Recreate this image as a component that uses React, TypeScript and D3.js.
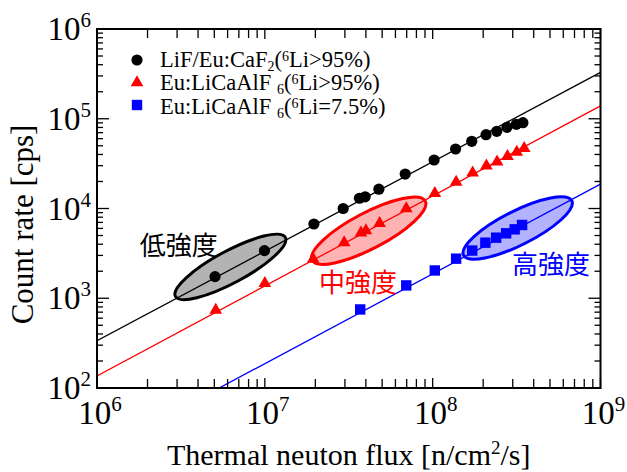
import React from "react";
import * as d3 from "d3";

// LiF/Eu:CaF2 (6Li>95%)
const lifFlux = [5.05e6, 9.95e6, 1.96e7, 2.93e7, 3.66e7, 3.96e7, 4.78e7, 6.86e7, 1.02e8, 1.37e8, 1.71e8, 2.08e8, 2.41e8, 2.77e8, 3.15e8, 3.45e8];
const lifRate = [1.74e3, 3.39e3, 6.72e3, 1.0e4, 1.3e4, 1.35e4, 1.64e4, 2.42e4, 3.47e4, 4.6e4, 5.61e4, 6.64e4, 7.25e4, 8.03e4, 8.67e4, 9.04e4];
// Eu:LiCaAlF6 (6Li>95%)
const lcafEnrFlux = [5.1e6, 1.0e7, 1.94e7, 2.97e7, 3.74e7, 4.0e7, 4.83e7, 6.96e7, 1.03e8, 1.38e8, 1.73e8, 2.09e8, 2.42e8, 2.79e8, 3.17e8, 3.51e8];
const lcafEnrRate = [7.4e2, 1.47e3, 2.74e3, 4.16e3, 5.37e3, 5.66e3, 6.84e3, 1.0e4, 1.48e4, 1.97e4, 2.49e4, 2.98e4, 3.32e4, 3.82e4, 4.24e4, 4.69e4];
// Eu:LiCaAlF6 (6Li=7.5%)
const lcafNatFlux = [3.7e7, 6.96e7, 1.03e8, 1.38e8, 1.72e8, 2.06e8, 2.39e8, 2.74e8, 3.08e8, 3.41e8];
const lcafNatRate = [7.5e2, 1.39e3, 2.04e3, 2.76e3, 3.4e3, 4.16e3, 4.73e3, 5.29e3, 5.86e3, 6.55e3];

// fitted lines, [flux, rate] at both ends of the x range
const fitLif: [number, number][] = [[1e6, 336], [1e9, 3.29e5]];
const fitLcafEnr: [number, number][] = [[1e6, 136], [1e9, 1.39e5]];
const fitLcafNat: [number, number][] = [[1e6, 18.7], [1e9, 1.87e4]];

// intensity regions: two ends of each ellipse [flux, rate]
const regionNames = ["低強度", "中強度", "高強度"];
const regionEnds: [number, number][][] = [
  [[2.88e6, 1.03e3], [1.35e7, 4.85e3]],
  [[1.88e7, 2.6e3], [9.2e7, 1.23e4]],
  [[1.5e8, 2.96e3], [6.87e8, 1.24e4]],
];
const regionLabelAt: [number, number][] = [[1.8e6, 3.03e3], [2.1e7, 1.17e3], [2.97e8, 1.86e3]];

const xDecades = [6, 7, 8, 9];
const yDecades = [2, 3, 4, 5, 6];

const W = 627;
const H = 472;
const margin = { top: 29, right: 26.5, bottom: 84, left: 97 };

const serif = "'Liberation Serif', 'Times New Roman', serif";
const jp = "'Noto Sans CJK JP', sans-serif";

export default function App() {
  const x = d3.scaleLog().domain([1e6, 1e9]).range([margin.left, W - margin.right]);
  const y = d3.scaleLog().domain([1e2, 1e6]).range([H - margin.bottom, margin.top]);
  const [x0, x1] = x.range();
  const [y0, y1] = y.range();

  const line = d3
    .line<[number, number]>()
    .x((d) => x(d[0]))
    .y((d) => y(d[1]));

  const isMajor = (v: number) => Math.abs(Math.log10(v) - Math.round(Math.log10(v))) < 1e-6;
  const xTicks = x.ticks();
  const yTicks = y.ticks();

  const tri = d3.symbol(d3.symbolTriangle, 70)() as string;

  const series = [
    { name: "lif", flux: lifFlux, rate: lifRate, color: "#000", fit: fitLif },
    { name: "enr", flux: lcafEnrFlux, rate: lcafEnrRate, color: "#ff0000", fit: fitLcafEnr },
    { name: "nat", flux: lcafNatFlux, rate: lcafNatRate, color: "#0000ff", fit: fitLcafNat },
  ];

  const regionStyle = [
    { fill: "#b3b3b3", stroke: "#000", text: "#000", b: 16 },
    { fill: "rgba(255,0,0,0.3)", stroke: "#ff0000", text: "#ff0000", b: 18 },
    { fill: "rgba(0,0,255,0.3)", stroke: "#0000ff", text: "#0000ff", b: 17 },
  ];

  const marker = (i: number, cx: number, cy: number, key: string | number) => {
    if (i === 0) return <circle key={key} cx={cx} cy={cy} r={5.6} fill="#000" />;
    if (i === 1) return <path key={key} d={tri} transform={`translate(${cx},${cy})`} fill="#ff0000" />;
    return <rect key={key} x={cx - 5.2} y={cy - 5.2} width={10.4} height={10.4} fill="#0000ff" />;
  };

  const legendRows = [
    { base: "LiF/Eu:CaF", sub: "2", tail: "Li>95%)" },
    { base: "Eu:LiCaAlF ", sub: "6", tail: "Li>95%)" },
    { base: "Eu:LiCaAlF ", sub: "6", tail: "Li=7.5%)" },
  ];

  return (
    <svg width={W} height={H} style={{ position: "absolute", left: 0, top: 0, background: "#fff" }}>
      <defs>
        <clipPath id="plot">
          <rect x={x0} y={y1} width={x1 - x0} height={y0 - y1} />
        </clipPath>
      </defs>

      {/* intensity regions */}
      {regionEnds.map((ends, i) => {
        const ax = x(ends[0][0]), ay = y(ends[0][1]);
        const bx = x(ends[1][0]), by = y(ends[1][1]);
        const a = Math.hypot(bx - ax, by - ay) / 2;
        const ang = (Math.atan2(by - ay, bx - ax) * 180) / Math.PI;
        const s = regionStyle[i];
        return (
          <ellipse
            key={i}
            transform={`translate(${(ax + bx) / 2},${(ay + by) / 2}) rotate(${ang})`}
            rx={a - 1.5}
            ry={s.b}
            fill={s.fill}
            stroke={s.stroke}
            strokeWidth={3}
          />
        );
      })}

      {/* fit lines */}
      <g clipPath="url(#plot)">
        {series.map((s) => (
          <path key={s.name} d={line(s.fit) as string} fill="none" stroke={s.color} strokeWidth={1.3} />
        ))}
      </g>

      {/* data points */}
      {series.map((s, i) => (
        <g key={s.name}>{s.flux.map((f, j) => marker(i, x(f), y(s.rate[j]), j))}</g>
      ))}

      {/* region labels */}
      {regionNames.map((t, i) => (
        <text
          key={t}
          x={x(regionLabelAt[i][0])}
          y={y(regionLabelAt[i][1])}
          fontFamily={jp}
          fontSize={26}
          fill={regionStyle[i].text}
        >
          {t}
        </text>
      ))}

      {/* ticks, inward on all four sides */}
      <g stroke="#000" strokeWidth={1.3}>
        {xTicks.map((t, i) => {
          const len = isMajor(t) ? 10 : 9;
          return (
            <g key={i}>
              <line x1={x(t)} x2={x(t)} y1={y0} y2={y0 - len} />
              <line x1={x(t)} x2={x(t)} y1={y1} y2={y1 + len} />
            </g>
          );
        })}
        {yTicks.map((t, i) => {
          const len = isMajor(t) ? 12 : 6;
          return (
            <g key={i}>
              <line x1={x0} x2={x0 + len} y1={y(t)} y2={y(t)} />
              <line x1={x1} x2={x1 - len} y1={y(t)} y2={y(t)} />
            </g>
          );
        })}
      </g>
      <rect x={x0} y={y1} width={x1 - x0} height={y0 - y1} fill="none" stroke="#000" strokeWidth={2} />

      {/* tick labels */}
      {xDecades.map((d) => (
        <text key={d} x={x(Math.pow(10, d)) + 3} y={424} textAnchor="middle" fontFamily={serif} fontSize={33}>
          10<tspan dy={-13} fontSize={21}>{d}</tspan>
        </text>
      ))}
      {yDecades.map((d) => (
        <text key={d} x={91} y={y(Math.pow(10, d)) + 11} textAnchor="end" fontFamily={serif} fontSize={33}>
          10<tspan dy={-13} fontSize={21}>{d}</tspan>
        </text>
      ))}

      {/* axis titles */}
      <text x={(x0 + x1) / 2} y={465} textAnchor="middle" fontFamily={serif} fontSize={30}>
        Thermal neuton flux [n/cm<tspan dy={-11} fontSize={19}>2</tspan>
        <tspan dy={11}>/s]</tspan>
      </text>
      <text
        transform={`translate(33,${(y0 + y1) / 2 + 16}) rotate(-90)`}
        textAnchor="middle"
        fontFamily={serif}
        fontSize={31}
      >
        Count rate [cps]
      </text>

      {/* legend */}
      <g fontFamily={serif} fontSize={22.5}>
        {legendRows.map((r, i) => (
          <g key={i}>
            {marker(i, 137, 60 + i * 22.5, "m" + i)}
            <text x={160} y={66.5 + i * 23.5}>
              {r.base}
              <tspan dy={4} fontSize={14}>{r.sub}</tspan>
              <tspan dy={-4}>(</tspan>
              <tspan dy={-6} fontSize={14}>6</tspan>
              <tspan dy={6}>{r.tail}</tspan>
            </text>
          </g>
        ))}
      </g>
    </svg>
  );
}
